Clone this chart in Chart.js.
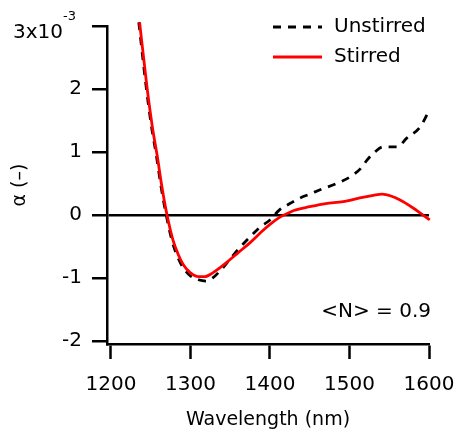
<!DOCTYPE html>
<html>
<head>
<meta charset="utf-8">
<script src="https://cdn.jsdelivr.net/npm/chart.js@4"></script>
<style>
  html, body { margin: 0; padding: 0; background: #fff; }
  #grafico-container { width: 457px; height: 434px; }
</style>
</head>
<body>
<div id="grafico-container"><canvas id="grafico" width="457" height="434"></canvas></div>
<script>
// Wavelength (nm) and alpha (x10^-3)
const wlUnstirred = [1235, 1244, 1251, 1257, 1263, 1269, 1277, 1285, 1292, 1300, 1310, 1320, 1328, 1340, 1350, 1362, 1375, 1387, 1400, 1412, 1425, 1438, 1450, 1463, 1484, 1504, 1515, 1522, 1532, 1542, 1560, 1572, 1589, 1601];
const alphaUnstirred = [3.06, 2.06, 1.40, 0.95, 0.45, 0.03, -0.42, -0.70, -0.86, -0.97, -1.03, -1.05, -1.00, -0.85, -0.70, -0.52, -0.35, -0.20, -0.08, 0.08, 0.18, 0.27, 0.33, 0.40, 0.50, 0.63, 0.75, 0.87, 1.00, 1.08, 1.08, 1.22, 1.40, 1.68];

const wlStirred = [1236, 1245, 1252, 1258, 1264, 1270, 1278, 1285, 1291, 1300, 1310, 1318, 1328, 1338, 1346, 1360, 1375, 1390, 1400, 1412, 1423, 1430, 1450, 1470, 1492, 1513, 1530, 1541, 1552, 1563, 1580, 1590, 1601];
const alphaStirred = [3.06, 2.06, 1.40, 0.95, 0.45, 0.03, -0.40, -0.64, -0.79, -0.92, -0.98, -0.98, -0.92, -0.83, -0.75, -0.60, -0.44, -0.26, -0.15, -0.04, 0.03, 0.07, 0.13, 0.18, 0.21, 0.27, 0.31, 0.33, 0.30, 0.24, 0.11, 0.02, -0.08];

const ticksX = [1200, 1300, 1400, 1500, 1600];
const ticksY = [-2, -1, 0, 1, 2, 3];

const fonte = '"DejaVu Sans", sans-serif';

function pontos(xs, ys) {
    return xs.map((x, i) => ({ x: x, y: ys[i] }));
}

// legenda, expoente do eixo y e anotação desenhados à mão
const extras = {
    id: 'extras',
    afterDraw(chart) {
        const ctx = chart.ctx;
        const area = chart.chartArea;
        const escalaY = chart.scales.y;
        ctx.save();
        ctx.fillStyle = 'black';
        ctx.textBaseline = 'middle';

        chart.data.datasets.forEach((ds, i) => {
            const ly = area.top + 1 + i * 30;
            ctx.strokeStyle = ds.borderColor;
            ctx.lineWidth = ds.borderWidth;
            ctx.setLineDash(ds.borderDash || []);
            ctx.beginPath();
            ctx.moveTo(area.right - 156, ly);
            ctx.lineTo(area.right - 107, ly);
            ctx.stroke();
            ctx.font = '20px ' + fonte;
            ctx.textAlign = 'left';
            ctx.fillText(ds.label, area.right - 95, ly);
        });
        ctx.setLineDash([]);

        const topo = escalaY.getPixelForValue(3);
        ctx.font = '20px ' + fonte;
        ctx.textAlign = 'right';
        ctx.fillText('3x10', 63, topo + 7);
        ctx.font = '13px ' + fonte;
        ctx.textAlign = 'left';
        ctx.fillText('-3', 63, topo - 9);

        ctx.font = '20px ' + fonte;
        ctx.textAlign = 'right';
        ctx.fillText('<N> = 0.9', area.right + 2, area.bottom - 32);
        ctx.restore();
    }
};

const ctx = document.getElementById('grafico').getContext('2d');

new Chart(ctx, {
    type: 'line',
    data: {
        datasets: [{
            label: 'Unstirred',
            data: pontos(wlUnstirred, alphaUnstirred),
            borderColor: 'black',
            borderWidth: 2.8,
            borderDash: [8, 7],
            pointRadius: 0,
            cubicInterpolationMode: 'monotone',
            clip: { left: 0, top: 6, right: 3, bottom: 0 },
            order: 1
        }, {
            label: 'Stirred',
            data: pontos(wlStirred, alphaStirred),
            borderColor: '#ff0000',
            borderWidth: 2.8,
            pointRadius: 0,
            cubicInterpolationMode: 'monotone',
            clip: { left: 0, top: 6, right: 3, bottom: 0 },
            order: 0
        }]
    },
    options: {
        responsive: false,
        animation: false,
        devicePixelRatio: 1,
        layout: { padding: { left: 0, top: 26, right: 28, bottom: 0 } },
        plugins: {
            legend: { display: false },
            tooltip: { enabled: false }
        },
        scales: {
            x: {
                type: 'linear',
                min: 1195,
                max: 1600,
                afterBuildTicks: s => { s.ticks = ticksX.map(v => ({ value: v })); },
                afterFit: s => { s.height = 90; s.paddingLeft = 0; s.paddingRight = 20; },
                border: { display: true, color: 'black', width: 2.5 },
                grid: { drawOnChartArea: false, drawTicks: true, tickLength: 15, tickWidth: 2.5, tickColor: 'black' },
                ticks: {
                    color: 'black',
                    font: { family: fonte, size: 20 },
                    padding: 14,
                    maxRotation: 0,
                    callback: v => String(v)
                },
                title: { display: true, text: 'Wavelength (nm)', color: 'black', font: { family: fonte, size: 19 }, padding: { top: 0, bottom: 3 } }
            },
            y: {
                min: -2.05,
                max: 3,
                afterBuildTicks: s => { s.ticks = ticksY.map(v => ({ value: v })); },
                afterFit: s => { s.width = 107; },
                border: { display: true, color: 'black', width: 2.5 },
                grid: {
                    drawOnChartArea: true,
                    color: c => (c.tick && c.tick.value === 0 ? 'black' : 'transparent'),
                    lineWidth: 2.5,
                    drawTicks: true,
                    tickLength: 15,
                    tickWidth: 2.5,
                    tickColor: 'black'
                },
                ticks: {
                    color: 'black',
                    font: { family: fonte, size: 20 },
                    padding: 10,
                    callback: v => (v === 3 ? '' : String(v))
                },
                title: { display: true, text: 'α (–)', color: 'black', font: { family: fonte, size: 19 }, padding: { top: 9, bottom: 0 } }
            }
        }
    },
    plugins: [extras]
});
</script>
</body>
</html>
